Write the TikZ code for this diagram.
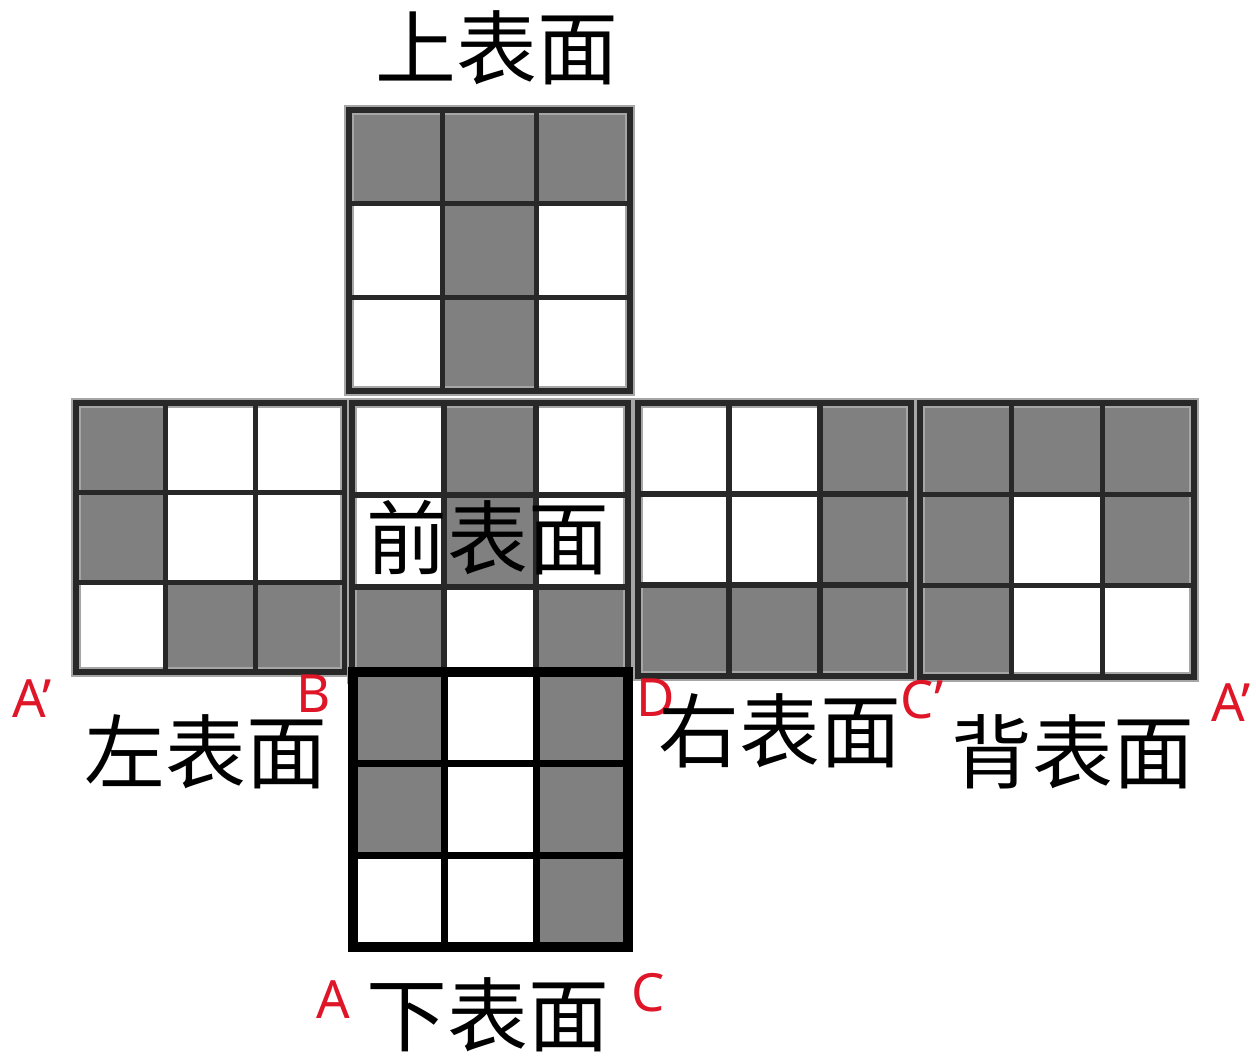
\documentclass[tikz,border=0pt]{standalone}
\usepackage{fontspec}
\newfontfamily\cjk{Noto Sans CJK SC}
\newfontfamily\ptfont{Noto Sans}
\usetikzlibrary{positioning}

\definecolor{dk}{RGB}{128,128,128}
\colorlet{lt}{white}
\definecolor{gridline}{RGB}{40,40,40}
\definecolor{ptred}{RGB}{222,22,40}

\tikzset{
  face halo/.style={draw=black!35, line width=5.2pt},
  face line/.style={draw=gridline, line width=3pt},
  base halo/.style={draw=black, line width=5.6pt},
  base line/.style={draw=black, line width=4.2pt},
  facelabel/.style={font=\cjk\fontsize{46}{46}\selectfont, inner sep=0pt},
  pointlabel/.style={text=ptred, font=\ptfont\fontsize{30}{30}\selectfont, inner sep=0pt},
}

% one face of the cube: x, y (top left), size, line style, nine cells row by row
\newcommand{\cubeface}[5]{%
  \foreach \c [count=\i from 0] in {#5} {
    \pgfmathtruncatemacro{\col}{mod(\i,3)}
    \pgfmathtruncatemacro{\row}{div(\i,3)}
    \fill[\c] ({#1+\col*#3/3},{#2+\row*#3/3}) rectangle ++({#3/3},{#3/3});
  }
  \draw[#4 halo] (#1,#2) rectangle ++(#3,#3);
  \foreach \k in {1,2} {
    \draw[#4 line] ({#1+\k*#3/3},#2) -- ++(0,#3);
    \draw[#4 line] (#1,{#2+\k*#3/3}) -- ++(#3,0);
  }
  \draw[#4 line] (#1,#2) rectangle ++(#3,#3);
}

\begin{document}
\begin{tikzpicture}[x=0.02cm, y=-0.02cm]
    \useasboundingbox (0,0) rectangle (1256,1056);

    % the net
    \cubeface{349}{110}{281}{face}{dk,dk,dk,lt,dk,lt,lt,dk,lt}
    \cubeface{76}{403}{269}{face}{dk,lt,lt,dk,lt,lt,lt,dk,dk}
    \cubeface{352}{403}{276}{face}{lt,dk,lt,lt,dk,lt,dk,lt,dk}
    \cubeface{638}{403}{273}{face}{lt,lt,dk,lt,lt,dk,dk,dk,dk}
    \cubeface{920}{403}{274}{face}{dk,dk,dk,dk,lt,dk,dk,lt,lt}
    \cubeface{353}{672}{275}{base}{dk,lt,dk,dk,lt,dk,lt,lt,dk}

    % corner letters
    \node[pointlabel] (a1) at (32,699) {A’};
    \node[pointlabel] (b) at (314,694) {B};
    \node[pointlabel] (d) at (656,698) {D};
    \node[pointlabel] (c1) at (922,700) {C’};
    \node[pointlabel] (a2) at (1231,703) {A’};
    \node[pointlabel] (a) at (333,1000) {A};
    \node[pointlabel] (c) at (648,993) {C};

    % face names
    \node[facelabel] (top) at (497,48) {上表面};
    \node[facelabel] (front) at (488,538) {前表面};
    \node[facelabel] (left) at (206,752) {左表面};
    \node[facelabel] (right) at (780,731) {右表面};
    \node[facelabel] (back) at (1073,752) {背表面};
    \node[facelabel] (bottom) at (488,1015) {下表面};
\end{tikzpicture}
\end{document}
